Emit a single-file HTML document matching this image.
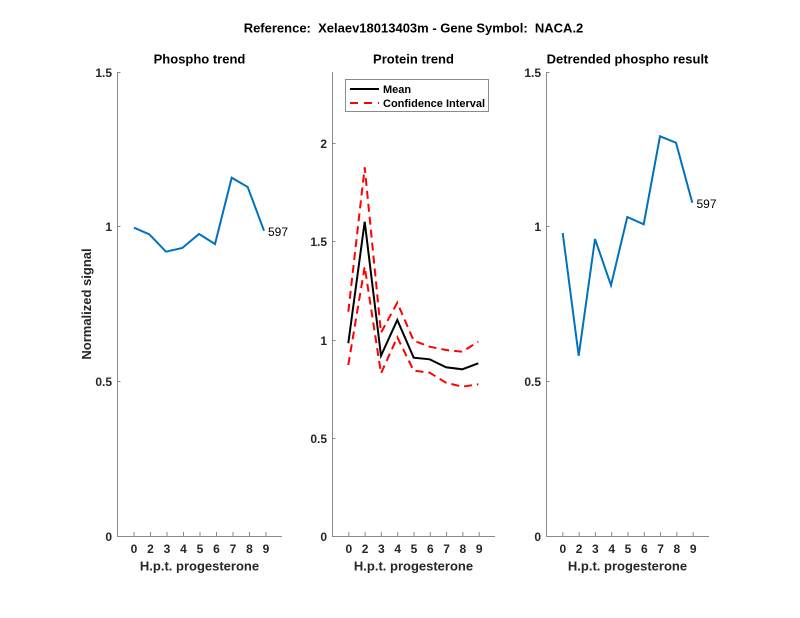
<!DOCTYPE html>
<html><head><meta charset="utf-8"><style>
html,body{margin:0;padding:0;background:#fff;}
svg{display:block;}
text{font-family:"Liberation Sans",Arial,sans-serif;}
.t{font-size:13px;font-weight:bold;fill:#000;text-anchor:middle;}
.tk{font-size:12px;font-weight:bold;fill:#262626;}
.ax{stroke:#8a8a8a;stroke-width:1;fill:none;}
.lbl{font-size:13px;font-weight:bold;fill:#262626;text-anchor:middle;}
</style></head><body>
<svg width="800" height="618" viewBox="0 0 800 618" xmlns="http://www.w3.org/2000/svg">
<rect width="800" height="618" fill="#fff"/>
<text x="413.5" y="32.5" class="t" xml:space="preserve">Reference:  Xelaev18013403m - Gene Symbol:  NACA.2</text>

<!-- Panel 1 -->
<text x="199.5" y="63.5" class="t">Phospho trend</text>
<path class="ax" d="M117.5,72 V536.5 H282"/>
<g class="ax">
<path d="M117.5,72.5 h3 M117.5,381.5 h3 M117.5,226.5 h3"/>
<path d="M134,536 v-4 M150.5,536 v-4 M167,536 v-4 M183.5,536 v-4 M200,536 v-4 M216.5,536 v-4 M233,536 v-4 M249.5,536 v-4 M266,536 v-4"/>
</g>
<g class="tk" text-anchor="end">
<text x="112" y="77">1.5</text><text x="112" y="231">1</text><text x="112" y="386">0.5</text><text x="112" y="541">0</text>
</g>
<g class="tk" text-anchor="middle">
<text x="134" y="553">0</text><text x="150.5" y="553">2</text><text x="167" y="553">3</text><text x="183.5" y="553">4</text><text x="200" y="553">5</text><text x="216.5" y="553">6</text><text x="233" y="553">7</text><text x="249.5" y="553">8</text><text x="266" y="553">9</text>
</g>
<text x="199.5" y="570.5" class="lbl">H.p.t. progesterone</text>
<text transform="translate(91,304) rotate(-90)" class="lbl">Normalized signal</text>
<polyline fill="none" stroke="#0072BD" stroke-width="2" points="134,227.7 149.3,234.3 166,251.7 182.3,248 199,234 215,244 231.7,177.7 247.7,187 264,230.7"/>
<text x="268" y="236" style="font-size:12px;fill:#000">597</text>

<!-- Panel 2 -->
<text x="413.5" y="63.5" class="t">Protein trend</text>
<path class="ax" d="M332.5,72 V536.5 H495"/>
<g class="ax">
<path d="M332.5,143.5 h3 M332.5,241.5 h3 M332.5,340.5 h3 M332.5,438.5 h3"/>
<path d="M348.8,536 v-4 M365.1,536 v-4 M381.4,536 v-4 M397.7,536 v-4 M414,536 v-4 M430.3,536 v-4 M446.6,536 v-4 M462.9,536 v-4 M479.2,536 v-4"/>
</g>
<g class="tk" text-anchor="end">
<text x="327" y="148">2</text><text x="327" y="246">1.5</text><text x="327" y="345">1</text><text x="327" y="443">0.5</text><text x="327" y="541">0</text>
</g>
<g class="tk" text-anchor="middle">
<text x="348.8" y="553">0</text><text x="365.1" y="553">2</text><text x="381.4" y="553">3</text><text x="397.7" y="553">4</text><text x="414" y="553">5</text><text x="430.3" y="553">6</text><text x="446.6" y="553">7</text><text x="462.9" y="553">8</text><text x="479.2" y="553">9</text>
</g>
<text x="413.5" y="570.5" class="lbl">H.p.t. progesterone</text>
<polyline fill="none" stroke="#ff0000" stroke-width="2" stroke-dasharray="8,5" points="348.3,311.7 364.7,167.3 381,332.7 397.3,302.7 413.7,340.7 429.7,346.7 446,350 462.3,351.7 478.3,341.7"/>
<polyline fill="none" stroke="#ff0000" stroke-width="2" stroke-dasharray="8,5" points="348.3,365 364.7,266.7 381,373.3 397.3,337.3 413.7,370.7 429.7,372.7 446,382.7 462.3,386.7 478.3,384.3"/>
<polyline fill="none" stroke="#000" stroke-width="2" points="348.3,343.3 364.7,221.7 381,355.7 397.3,320 413.7,357.7 429.7,359.3 446,367.3 462.3,369.3 478.3,363.3"/>
<rect x="345.5" y="79.5" width="143" height="32" fill="#fff" stroke="#8a8a8a" stroke-width="1"/>
<line x1="350" y1="89" x2="379" y2="89" stroke="#000" stroke-width="2"/>
<line x1="350" y1="103" x2="379" y2="103" stroke="#ff0000" stroke-width="2" stroke-dasharray="8,6"/>
<text x="383" y="93" style="font-size:11px;font-weight:bold;fill:#000">Mean</text>
<text x="383" y="107" style="font-size:11px;font-weight:bold;fill:#000">Confidence Interval</text>

<!-- Panel 3 -->
<text x="627.5" y="63.5" class="t">Detrended phospho result</text>
<path class="ax" d="M546.5,72 V536.5 H709"/>
<g class="ax">
<path d="M546.5,72.5 h3 M546.5,381.5 h3 M546.5,226.5 h3"/>
<path d="M562.8,536 v-4 M579.1,536 v-4 M595.4,536 v-4 M611.7,536 v-4 M628,536 v-4 M644.3,536 v-4 M660.6,536 v-4 M676.9,536 v-4 M693.2,536 v-4"/>
</g>
<g class="tk" text-anchor="end">
<text x="541" y="77">1.5</text><text x="541" y="231">1</text><text x="541" y="386">0.5</text><text x="541" y="541">0</text>
</g>
<g class="tk" text-anchor="middle">
<text x="562.8" y="553">0</text><text x="579.1" y="553">2</text><text x="595.4" y="553">3</text><text x="611.7" y="553">4</text><text x="628" y="553">5</text><text x="644.3" y="553">6</text><text x="660.6" y="553">7</text><text x="676.9" y="553">8</text><text x="693.2" y="553">9</text>
</g>
<text x="627.5" y="570.5" class="lbl">H.p.t. progesterone</text>
<polyline fill="none" stroke="#0072BD" stroke-width="2" points="562.7,233 578.7,355.7 595,239 611,285.3 627.3,217 643.7,224.3 660,136.3 676,142.7 692.3,202.7"/>
<text x="696.5" y="208" style="font-size:12px;fill:#000">597</text>
</svg>
</body></html>
